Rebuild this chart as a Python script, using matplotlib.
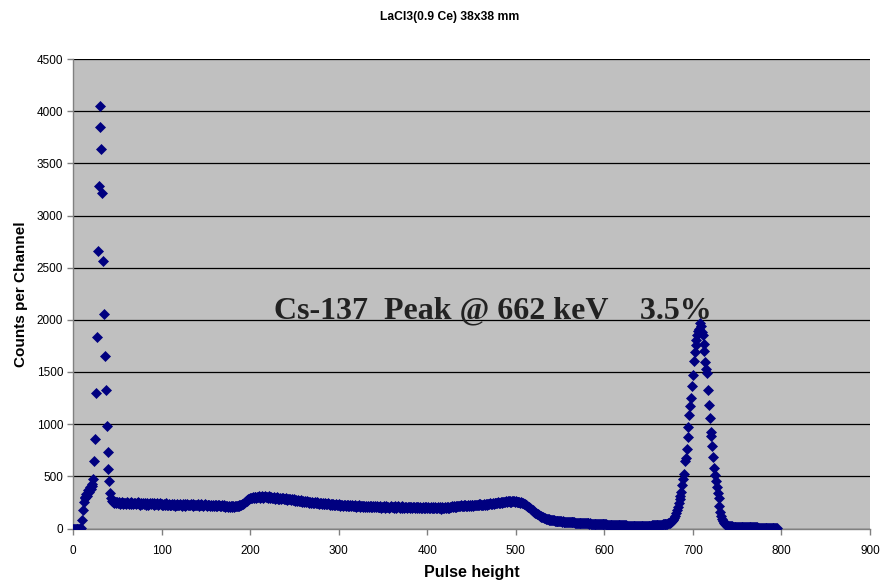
import numpy as np
import matplotlib
matplotlib.use("Agg")
import matplotlib.pyplot as plt

title = "LaCl3(0.9 Ce) 38x38 mm"
x_label = "Pulse height"
y_label = "Counts per Channel"
annotation = "Cs-137  Peak @ 662 keV    3.5%"
x_ticks = [0, 100, 200, 300, 400, 500, 600, 700, 800, 900]
y_ticks = [0, 500, 1000, 1500, 2000, 2500, 3000, 3500, 4000, 4500]

# counts per channel, channel 0 .. 795
counts_000_049 = [0, 0, 0, 0, 0, 0, 0, 0, 0, 5,
                  80, 175, 255, 300, 290, 330, 310, 365, 350, 395,
                  380, 410, 430, 470, 643, 857, 1302, 1839, 2664, 3278,
                  3847, 4049, 3636, 3211, 2565, 2056, 1653, 1327, 981, 729,
                  569, 457, 337, 290, 262, 255, 248, 258, 244, 251]
counts_050_099 = [250, 243, 255, 238, 247, 252, 236, 244, 249, 241,
                  238, 253, 246, 232, 244, 250, 239, 242, 236, 248,
                  245, 231, 240, 252, 237, 243, 229, 246, 238, 241,
                  235, 247, 230, 239, 244, 226, 238, 242, 233, 240,
                  236, 229, 243, 237, 231, 245, 228, 236, 240, 232]
counts_100_149 = [230, 238, 224, 233, 227, 241, 222, 230, 235, 226,
                  229, 221, 236, 228, 232, 219, 227, 234, 225, 230,
                  222, 237, 228, 220, 231, 226, 233, 218, 229, 235,
                  224, 228, 221, 232, 227, 236, 219, 226, 230, 223,
                  228, 234, 220, 225, 231, 224, 229, 217, 226, 232]
counts_150_199 = [224, 218, 229, 221, 226, 215, 230, 220, 225, 212,
                  223, 218, 227, 214, 221, 226, 211, 219, 224, 216,
                  213, 222, 208, 218, 214, 205, 216, 210, 220, 207,
                  212, 218, 206, 215, 211, 219, 213, 222, 217, 226,
                  224, 233, 238, 246, 252, 261, 268, 274, 281, 287]
counts_200_249 = [292, 297, 289, 301, 295, 306, 299, 293, 304, 298,
                  309, 296, 302, 311, 300, 294, 306, 313, 299, 305,
                  297, 308, 301, 293, 303, 296, 290, 300, 287, 294,
                  298, 285, 291, 283, 295, 280, 288, 292, 279, 286,
                  282, 290, 276, 284, 279, 287, 273, 281, 276, 270]
counts_250_299 = [278, 268, 274, 263, 271, 266, 259, 270, 262, 257,
                  266, 255, 261, 252, 264, 257, 249, 258, 253, 246,
                  255, 249, 243, 252, 247, 240, 250, 244, 238, 247,
                  241, 236, 245, 239, 233, 242, 237, 231, 240, 235,
                  229, 238, 232, 227, 236, 230, 225, 234, 228, 223]
counts_300_349 = [232, 226, 220, 229, 223, 217, 227, 221, 215, 225,
                  219, 228, 214, 222, 217, 226, 211, 220, 215, 224,
                  209, 218, 213, 221, 207, 216, 211, 219, 206, 214,
                  210, 218, 204, 213, 209, 217, 205, 212, 208, 215,
                  203, 211, 207, 214, 202, 210, 206, 213, 201, 209]
counts_350_399 = [205, 212, 200, 208, 214, 203, 209, 199, 207, 213,
                  202, 208, 197, 205, 211, 200, 206, 215, 203, 198,
                  207, 212, 201, 206, 196, 204, 210, 199, 205, 209,
                  198, 203, 208, 195, 202, 207, 200, 205, 197, 203,
                  209, 199, 204, 194, 201, 206, 198, 203, 196, 202]
counts_400_449 = [199, 205, 194, 201, 207, 196, 202, 192, 199, 205,
                  194, 200, 206, 197, 203, 191, 198, 204, 195, 201,
                  208, 197, 203, 199, 206, 200, 209, 203, 211, 205,
                  213, 207, 215, 209, 217, 211, 219, 213, 221, 215,
                  218, 224, 216, 222, 214, 220, 226, 218, 223, 217]
counts_450_499 = [221, 227, 219, 225, 230, 222, 228, 224, 231, 226,
                  233, 228, 223, 230, 236, 229, 234, 227, 238, 232,
                  236, 241, 234, 239, 244, 237, 242, 248, 240, 246,
                  251, 244, 249, 255, 247, 252, 258, 250, 256, 261,
                  253, 259, 264, 256, 262, 258, 265, 259, 263, 257]
counts_500_549 = [260, 254, 258, 251, 255, 249, 252, 246, 242, 238,
                  233, 229, 221, 217, 208, 203, 194, 188, 179, 173,
                  164, 159, 151, 147, 139, 135, 127, 124, 117, 114,
                  108, 106, 100, 99, 95, 94, 89, 89, 85, 85,
                  81, 81, 77, 78, 75, 75, 72, 73, 70, 71]
counts_550_599 = [69, 70, 67, 68, 66, 66, 64, 65, 63, 63,
                  62, 61, 61, 59, 60, 58, 58, 57, 57, 55,
                  56, 54, 55, 53, 53, 52, 52, 51, 51, 49,
                  50, 48, 49, 47, 48, 46, 47, 45, 46, 45,
                  45, 44, 44, 43, 44, 42, 43, 42, 42, 41]
counts_600_649 = [40, 39, 39, 38, 38, 37, 37, 36, 36, 35,
                  35, 34, 34, 33, 33, 32, 32, 31, 31, 30,
                  30, 30, 29, 29, 29, 28, 28, 28, 28, 27,
                  27, 27, 27, 26, 26, 26, 26, 26, 26, 25,
                  26, 25, 26, 25, 26, 26, 25, 26, 26, 27]
counts_650_699 = [27, 27, 28, 28, 29, 29, 30, 31, 31, 32,
                  33, 34, 35, 36, 37, 38, 39, 40, 41, 43,
                  44, 46, 49, 52, 56, 60, 68, 78, 90, 102,
                  120, 150, 177, 209, 245, 278, 315, 349, 420, 477,
                  524, 646, 678, 758, 880, 975, 1084, 1174, 1254, 1365]
counts_700_749 = [1468, 1605, 1692, 1760, 1807, 1851, 1890, 1915, 1967, 1940,
                  1887, 1850, 1772, 1700, 1599, 1530, 1490, 1324, 1183, 1058,
                  924, 886, 790, 688, 576, 508, 454, 397, 342, 291,
                  214, 160, 118, 90, 70, 55, 45, 38, 32, 28,
                  25, 23, 22, 21, 20, 19, 19, 18, 17, 17]
counts_750_795 = [16, 16, 15, 15, 14, 14, 14, 13, 13, 13,
                  12, 12, 12, 12, 11, 11, 11, 11, 10, 10,
                  10, 10, 10, 9, 9, 9, 9, 9, 8, 8,
                  8, 8, 8, 8, 8, 7, 7, 7, 7, 7,
                  7, 6, 6, 6, 6, 6]

counts = np.array(counts_000_049 + counts_050_099 + counts_100_149 + counts_150_199
                  + counts_200_249 + counts_250_299 + counts_300_349 + counts_350_399
                  + counts_400_449 + counts_450_499 + counts_500_549 + counts_550_599
                  + counts_600_649 + counts_650_699 + counts_700_749 + counts_750_795)
channels = np.arange(len(counts))

plt.rcParams['font.family'] = ['Liberation Sans', 'DejaVu Sans']

fig = plt.figure(figsize=(8.89, 5.80), dpi=100)
ax = fig.add_axes([73/889, 1-528.5/580, (870-73)/889, (528.5-59)/580])
ax.set_facecolor('#C0C0C0')

ax.plot(channels, counts, linestyle='none', marker='D', markersize=4.8,
        color='#000080', markeredgewidth=0.5, markeredgecolor='#000080', zorder=3)

ax.set_xlim(0, 900)
ax.set_ylim(0, 4500)
ax.set_xticks(x_ticks)
ax.set_yticks(y_ticks)
ax.yaxis.grid(True, color='black', linewidth=0.9)
ax.set_axisbelow(True)
for s in ['top', 'right']:
    ax.spines[s].set_visible(False)
for s in ['left', 'bottom']:
    ax.spines[s].set_color('#808080')
    ax.spines[s].set_linewidth(1.0)
ax.tick_params(axis='y', direction='out', length=4, width=1, color='#808080',
               labelsize=8.5, labelcolor='black', pad=3)
ax.tick_params(axis='x', direction='out', length=4, width=1, color='#808080',
               labelsize=8.5, labelcolor='black', pad=8)

ax.set_xlabel(x_label, fontsize=11.5, fontweight='bold', labelpad=6)
ax.set_ylabel(y_label, fontsize=11, fontweight='bold', labelpad=6)
fig.text(0.506, 1-17/580, title, ha='center', va='center', fontsize=8.7, fontweight='bold')

ax.text(227, 2016, annotation, ha='left', va='baseline',
        fontfamily=['Liberation Serif', 'DejaVu Serif'], fontweight='bold',
        fontsize=23, color='#222222', zorder=4)

fig.savefig('out.png', dpi=100)
